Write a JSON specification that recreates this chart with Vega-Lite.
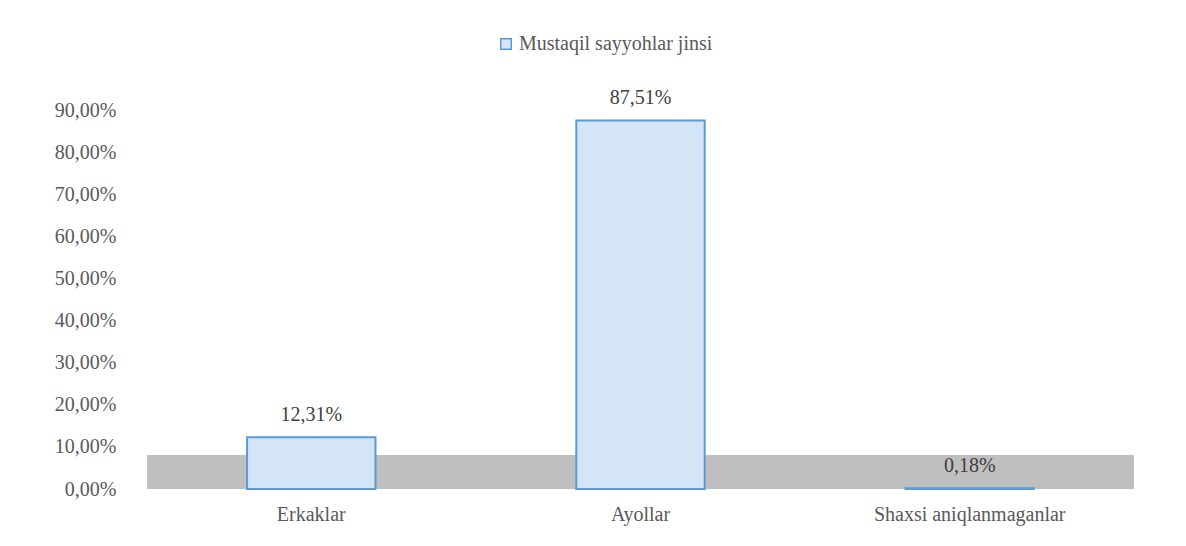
{
  "$schema": "https://vega.github.io/schema/vega-lite/v6.json",
  "autosize": "none",
  "width": 987,
  "height": 379,
  "padding": {"left": 147, "top": 110, "right": 52, "bottom": 57},
  "background": "white",
  "config": {
    "view": {"stroke": null},
    "font": "Liberation Serif",
    "locale": {"number": {"decimal": ",", "thousands": " ", "grouping": [3], "currency": ["", ""]}}
  },
  "data": {"values": [
    {"category": "Erkaklar", "value": 0.1231, "series": "Mustaqil sayyohlar jinsi"},
    {"category": "Ayollar", "value": 0.8751, "series": "Mustaqil sayyohlar jinsi"},
    {"category": "Shaxsi aniqlanmaganlar", "value": 0.0018, "series": "Mustaqil sayyohlar jinsi"}
  ]},
  "encoding": {
    "x": {"field": "category", "type": "nominal", "sort": null,
      "scale": {"paddingInner": 0.61, "paddingOuter": 0.304},
      "axis": {"title": null, "labelAngle": 0, "domain": false, "ticks": false, "labelPadding": 15, "labelLimit": 0,
        "labelFont": "Liberation Serif", "labelFontSize": 20, "labelColor": "#595959"}}
  },
  "layer": [
    {
      "mark": {"type": "rect", "color": "#BFBFBF"},
      "encoding": {
        "x": {"value": 0},
        "x2": {"value": 987},
        "y": {"datum": 0, "type": "quantitative"},
        "y2": {"datum": 0.08}
      }
    },
    {
      "mark": {"type": "bar", "stroke": "#5B9BD5", "strokeWidth": 2},
      "encoding": {
        "y": {"field": "value", "type": "quantitative",
          "scale": {"domain": [0, 0.9], "nice": false},
          "axis": {"title": null, "format": ".2%", "values": [0, 0.1, 0.2, 0.3, 0.4, 0.5, 0.6, 0.7, 0.8, 0.9],
            "domain": false, "ticks": false, "grid": false, "labelPadding": 31,
            "labelFont": "Liberation Serif", "labelFontSize": 20, "labelColor": "#595959"}},
        "fill": {"field": "series", "type": "nominal",
          "scale": {"range": ["#D3E5F7"]},
          "legend": {"title": null, "orient": "none", "legendX": 349, "legendY": -76, "symbolType": "square", "symbolSize": 110,
            "symbolStrokeColor": "#5B9BD5", "symbolStrokeWidth": 1.5, "symbolOffset": 0, "labelOffset": 3, "labelLimit": 0,
            "labelFont": "Liberation Serif", "labelFontSize": 20, "labelColor": "#595959"}}
      }
    },
    {
      "mark": {"type": "text", "dy": -22, "baseline": "middle", "font": "Liberation Serif", "fontSize": 20, "color": "#404040"},
      "encoding": {
        "y": {"field": "value", "type": "quantitative"},
        "text": {"field": "value", "type": "quantitative", "format": ".2%"}
      }
    }
  ]
}
